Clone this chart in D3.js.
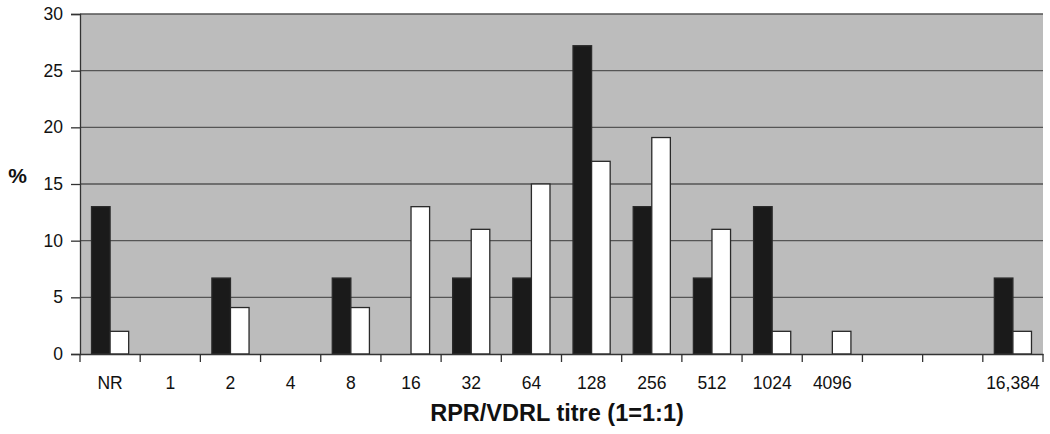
<!DOCTYPE html>
<html>
<head>
<meta charset="utf-8">
<script src="https://cdn.jsdelivr.net/npm/d3@7"></script>
<style>
  body { margin: 0; background: #fff; }
  text { font-family: "Liberation Sans", Arial, sans-serif; }
</style>
</head>
<body>
<div id="chart"></div>
<script>
// titre categories (two unlabeled slots between 4096 and 16,384)
var titres = ["NR", "1", "2", "4", "8", "16", "32", "64", "128", "256", "512", "1024", "4096", "", "", "16,384"];
var blackValues = [13, 0, 6.7, 0, 6.7, 0, 6.7, 6.7, 27.2, 13, 6.7, 13, 0, 0, 0, 6.7];
var whiteValues = [2, 0, 4.1, 0, 4.1, 13, 11, 15, 17, 19.1, 11, 2, 2, 0, 0, 2];
var yTicks = [0, 5, 10, 15, 20, 25, 30];

function chart() {
    var width = 1050;
    var height = 434;
    var left = 80, right = 1043, top = 14, bottom = 354;

    var svg = d3.select("#chart")
                .append("svg")
                .attr("width", width)
                .attr("height", height);

    var xScale = d3.scaleBand()
                    .domain(d3.range(titres.length))
                    .range([left, right])
                    .padding(0);

    var xInner = d3.scaleBand()
                    .domain(["black", "white"])
                    .range([0, xScale.bandwidth()])
                    .paddingInner(0)
                    .paddingOuter(0.62);

    var yScale = d3.scaleLinear()
                    .domain([0, 30])
                    .range([bottom, top]);

    // plot background
    svg.append("rect")
        .attr("x", left)
        .attr("y", top)
        .attr("width", right - left)
        .attr("height", bottom - top)
        .attr("fill", "#bcbcbc");

    // gridlines
    svg.selectAll(".grid")
        .data(yTicks.slice(1))
        .enter()
        .append("line")
        .attr("x1", left)
        .attr("x2", right)
        .attr("y1", function(d) { return yScale(d); })
        .attr("y2", function(d) { return yScale(d); })
        .attr("stroke", "#555")
        .attr("stroke-width", 1.3);

    var rows = titres.map(function(t, i) {
        return [
            {i: i, key: "black", value: blackValues[i]},
            {i: i, key: "white", value: whiteValues[i]}
        ];
    });

    var groups = svg.selectAll(".cat")
                    .data(rows)
                    .enter()
                    .append("g")
                    .attr("transform", function(d, i) { return "translate(" + xScale(i) + ",0)"; });

    groups.selectAll("rect")
        .data(function(d) { return d.filter(function(b) { return b.value > 0; }); })
        .enter()
        .append("rect")
        .attr("x", function(d) { return xInner(d.key); })
        .attr("y", function(d) { return yScale(d.value); })
        .attr("width", xInner.bandwidth())
        .attr("height", function(d) { return yScale(0) - yScale(d.value); })
        .attr("fill", function(d) { return d.key === "black" ? "#1a1a1a" : "#ffffff"; })
        .attr("stroke", "#2a2a2a")
        .attr("stroke-width", 1.3);

    // Y axis
    var yAxis = d3.axisLeft(yScale)
                .tickValues(yTicks)
                .tickSize(9)
                .tickPadding(8);
    var gy = svg.append("g")
        .attr("transform", "translate(" + left + ",0)")
        .call(yAxis);
    gy.attr("font-size", null).attr("font-family", null);
    gy.selectAll("text").style("font-size", "17.5px").attr("fill", "#111");
    gy.selectAll("line, path").attr("stroke", "#333").attr("stroke-width", 1.3);

    // X axis: labels centred in bands, tick lines on band boundaries
    var xAxis = d3.axisBottom(xScale)
                .tickFormat(function(i) { return titres[i]; })
                .tickSize(0)
                .tickPadding(23);
    var gx = svg.append("g")
        .attr("transform", "translate(0," + bottom + ")")
        .call(xAxis);
    gx.attr("font-size", null).attr("font-family", null);
    gx.selectAll("text").style("font-size", "17.5px").attr("fill", "#111");
    gx.selectAll("path").attr("stroke", "#333").attr("stroke-width", 1.3);

    var bounds = d3.range(titres.length + 1).map(function(i) {
        return i < titres.length ? xScale(i) : right;
    });
    gx.selectAll(".sep")
        .data(bounds)
        .enter()
        .append("line")
        .attr("x1", function(d) { return d; })
        .attr("x2", function(d) { return d; })
        .attr("y1", 0)
        .attr("y2", 8)
        .attr("stroke", "#333")
        .attr("stroke-width", 1.3);

    // Y axis label
    svg.append("text")
        .attr("x", 17.5)
        .attr("y", 183)
        .attr("text-anchor", "middle")
        .style("font-size", "21px")
        .attr("font-weight", "bold")
        .attr("fill", "#111")
        .text("%");

    // X axis label
    svg.append("text")
        .attr("x", 557)
        .attr("y", 421)
        .attr("text-anchor", "middle")
        .style("font-size", "23.5px")
        .attr("font-weight", "bold")
        .attr("fill", "#111")
        .text("RPR/VDRL titre (1=1:1)");
}

chart();
</script>
</body>
</html>
